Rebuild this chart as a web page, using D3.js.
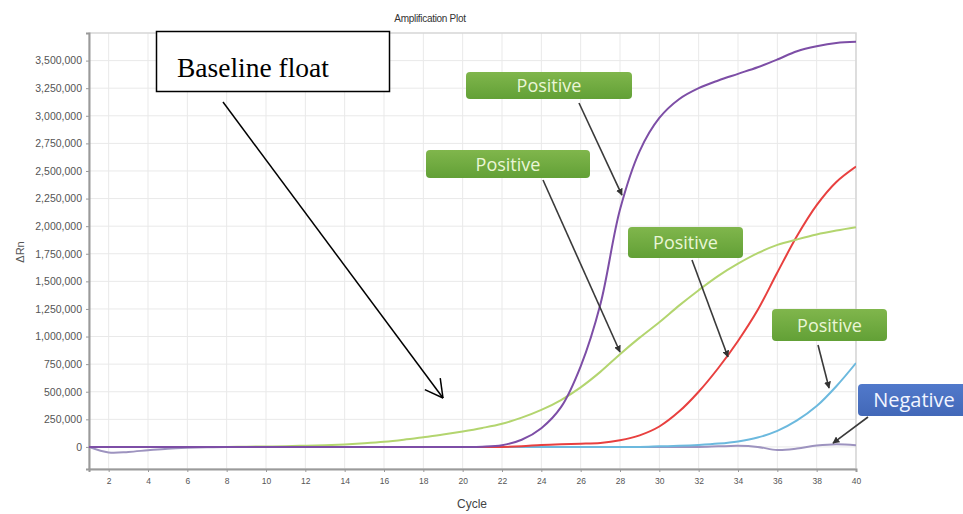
<!DOCTYPE html>
<html>
<head>
<meta charset="utf-8">
<script src="https://cdn.jsdelivr.net/npm/d3@7/dist/d3.min.js"></script>
<style>
  html, body { margin: 0; padding: 0; background: #fff; }
  svg { display: block; }
</style>
</head>
<body>
<svg id="chart" width="963" height="514"></svg>
<script>
// ---------------- DATA ----------------
const cycles = [1,2,3,4,5,6,7,8,9,10,11,12,13,14,15,16,17,18,19,20,
                21,22,23,24,25,26,27,28,29,30,31,32,33,34,35,36,37,38,39,40];

const purpleValues = [0,0,0,0,0,0,0,0,0,0,0,0,0,0,0,0,0,0,0,0,
  2000,15000,65000,170000,360000,730000,1290000,2150000,2680000,2980000,
  3150000,3250000,3320000,3380000,3440000,3510000,3585000,3630000,3660000,3670000];

const greenValues = [0,0,0,0,0,0,0,0,2000,4000,7000,11000,16000,23000,33000,46000,65000,88000,112000,140000,
  172000,210000,265000,335000,425000,540000,680000,840000,990000,1130000,
  1280000,1420000,1550000,1660000,1755000,1830000,1880000,1925000,1960000,1990000];

const redValues = [0,0,0,0,0,0,0,0,0,0,0,0,0,0,0,0,0,0,0,0,
  0,0,6000,18000,25000,29000,36000,60000,105000,185000,
  320000,500000,715000,960000,1240000,1580000,1910000,2190000,2400000,2540000];

const blueValues = [0,0,0,0,0,0,0,0,0,0,0,0,0,0,0,0,0,0,0,0,
  0,0,0,0,0,0,0,0,0,5000,
  10000,18000,30000,50000,85000,145000,240000,370000,550000,760000];

const negativeValues = [0,-50000,-45000,-30000,-16000,-8000,-3000,0,0,0,0,0,0,0,0,0,0,0,0,0,
  0,0,0,0,0,0,0,0,0,0,
  0,0,5000,10000,0,-28000,-15000,12000,25000,15000];

const xTicks = [2,4,6,8,10,12,14,16,18,20,22,24,26,28,30,32,34,36,38,40];
const yTicks = [0,250000,500000,750000,1000000,1250000,1500000,1750000,2000000,
                2250000,2500000,2750000,3000000,3250000,3500000];

const chartTitle = "Amplification Plot";
const xTitle = "Cycle";
const yTitle = "\u0394Rn";

// annotation tips in data units [cycle, value]
const labelTexts = ["Positive","Positive","Positive","Positive","Negative"];
const labelTips = [[28.1,2282000],[28.0,860000],[33.49,815000],[38.63,534000],[38.83,35000]];
const baselineText = "Baseline float";
const baselineTip = [19.0, 443000];

// ---------------- LAYOUT ----------------
const svg = d3.select("#chart");
const m = {left: 89, right: 856, top: 33, bottom: 469};

const x = d3.scaleLinear().domain([1, 40]).range([m.left, m.right]);
const y = d3.scaleLinear().domain([-200000, 3750000]).range([m.bottom, m.top]);

// grid
const grid = svg.append("g");
grid.selectAll("line.v").data(xTicks).join("line")
  .attr("x1", d => x(d)).attr("x2", d => x(d))
  .attr("y1", m.top).attr("y2", m.bottom)
  .attr("stroke", "#e9e9e9").attr("stroke-width", 1);
grid.selectAll("line.h").data(yTicks).join("line")
  .attr("x1", m.left).attr("x2", m.right)
  .attr("y1", d => y(d)).attr("y2", d => y(d))
  .attr("stroke", "#e9e9e9").attr("stroke-width", 1);

// frame
svg.append("rect").attr("x", m.left).attr("y", m.top)
  .attr("width", m.right - m.left).attr("height", m.bottom - m.top)
  .attr("fill", "none").attr("stroke", "#d6d6d6").attr("stroke-width", 1.5);

// axes
const yAxis = svg.append("g").attr("transform", `translate(${m.left},0)`)
  .call(d3.axisLeft(y).tickValues(yTicks).tickFormat(d3.format(",")).tickSize(3).tickPadding(4));
const xAxis = svg.append("g").attr("transform", `translate(0,${m.bottom})`)
  .call(d3.axisBottom(x).tickValues(xTicks).tickSize(3).tickPadding(6));
[yAxis, xAxis].forEach(a => {
  a.select(".domain").attr("stroke", "#9a9a9a").attr("stroke-width", 2);
  a.selectAll(".tick line").attr("stroke", "#999");
  a.selectAll(".tick text").attr("fill", "#555").attr("font-family", "Liberation Sans, Arial, sans-serif");
});
yAxis.selectAll(".tick text").attr("font-size", 10.5);
xAxis.selectAll(".tick text").attr("font-size", 8.5);

// titles
svg.append("text").attr("x", 430).attr("y", 22).attr("text-anchor", "middle")
  .attr("font-family", "Liberation Sans, Arial, sans-serif").attr("font-size", 10)
  .attr("fill", "#333").attr("letter-spacing", -0.3).text(chartTitle);
svg.append("text").attr("x", 472).attr("y", 508).attr("text-anchor", "middle")
  .attr("font-family", "Liberation Sans, Arial, sans-serif").attr("font-size", 12)
  .attr("fill", "#444").text(xTitle);
svg.append("text").attr("transform", "translate(24,252) rotate(-90)").attr("text-anchor", "middle")
  .attr("font-family", "Liberation Sans, Arial, sans-serif").attr("font-size", 11)
  .attr("fill", "#555").text(yTitle);

// curves
svg.append("clipPath").attr("id", "plotclip").append("rect")
  .attr("x", m.left).attr("y", m.top).attr("width", m.right - m.left).attr("height", m.bottom - m.top);
const line = d3.line().x((d, i) => x(cycles[i])).y(d => y(d)).curve(d3.curveCatmullRom.alpha(0.5));
const series = [
  {vals: negativeValues, color: "#9d93bf"},
  {vals: blueValues, color: "#6cb9de"},
  {vals: redValues, color: "#e8403f"},
  {vals: greenValues, color: "#b3d56f"},
  {vals: purpleValues, color: "#7d4ea6"}
];
const curves = svg.append("g").attr("clip-path", "url(#plotclip)");
series.forEach(s => {
  curves.append("path").datum(s.vals).attr("d", line)
    .attr("fill", "none").attr("stroke", s.color).attr("stroke-width", 2);
});

// markers
const defs = svg.append("defs");
defs.append("marker").attr("id", "ah").attr("viewBox", "0 0 10 10")
  .attr("refX", 9).attr("refY", 5).attr("markerWidth", 7).attr("markerHeight", 7)
  .attr("markerUnits", "userSpaceOnUse").attr("orient", "auto")
  .append("path").attr("d", "M0,0 L10,5 L0,10 z").attr("fill", "#333");
const gg = defs.append("linearGradient").attr("id", "gbox").attr("x1", 0).attr("y1", 0).attr("x2", 0).attr("y2", 1);
gg.append("stop").attr("offset", "0%").attr("stop-color", "#80b64c");
gg.append("stop").attr("offset", "100%").attr("stop-color", "#62a036");
const bg = defs.append("linearGradient").attr("id", "bbox").attr("x1", 0).attr("y1", 0).attr("x2", 0).attr("y2", 1);
bg.append("stop").attr("offset", "0%").attr("stop-color", "#5179cb");
bg.append("stop").attr("offset", "100%").attr("stop-color", "#4268b8");

// label boxes (pixel layout) and arrow starts
const boxLayout = [
  {x: 466, y: 72, w: 166, h: 27, sx: 579, sy: 103},
  {x: 426, y: 150, w: 164, h: 28, sx: 543, sy: 180},
  {x: 628, y: 227, w: 115, h: 31, sx: 692, sy: 260},
  {x: 772, y: 309, w: 115, h: 32, sx: 818, sy: 345},
  {x: 858, y: 384, w: 108, h: 32, sx: 868, sy: 417}
];
const ann = svg.append("g");
labelTexts.forEach((t, i) => {
  const b = boxLayout[i];
  const neg = t === "Negative";
  ann.append("line").attr("x1", b.sx).attr("y1", b.sy)
    .attr("x2", x(labelTips[i][0])).attr("y2", y(labelTips[i][1]))
    .attr("stroke", "#3a3a3a").attr("stroke-width", 1.6).attr("marker-end", "url(#ah)");
  ann.append("rect").attr("x", b.x).attr("y", b.y).attr("width", b.w).attr("height", b.h)
    .attr("rx", 4).attr("fill", neg ? "url(#bbox)" : "url(#gbox)");
  ann.append("text").attr("x", neg ? 914 : b.x + b.w / 2).attr("y", b.y + b.h / 2 + 6.5)
    .attr("text-anchor", "middle").attr("font-family", "Open Sans, Noto Sans, sans-serif")
    .attr("font-size", neg ? 20 : 18).attr("fill", neg ? "#f2f5ff" : "#eaf6d6").text(t);
});

// baseline float box + open arrow
const bx = svg.append("g");
const sx = 223, sy = 102, tx = x(baselineTip[0]), ty = y(baselineTip[1]);
bx.append("line").attr("x1", sx).attr("y1", sy).attr("x2", tx).attr("y2", ty)
  .attr("stroke", "#000").attr("stroke-width", 1.5);
const ang = Math.atan2(ty - sy, tx - sx);
[0.5, -0.5].forEach(da => {
  bx.append("line").attr("x1", tx).attr("y1", ty)
    .attr("x2", tx - 20 * Math.cos(ang + da)).attr("y2", ty - 20 * Math.sin(ang + da))
    .attr("stroke", "#000").attr("stroke-width", 1.5);
});
bx.append("rect").attr("x", 156.5).attr("y", 31.5).attr("width", 233).attr("height", 60)
  .attr("fill", "#fff").attr("stroke", "#000").attr("stroke-width", 1.5);
bx.append("text").attr("x", 177).attr("y", 77)
  .attr("font-family", "Liberation Serif, Times New Roman, serif").attr("font-size", 27.5)
  .attr("fill", "#000").text(baselineText);
</script>
</body>
</html>
